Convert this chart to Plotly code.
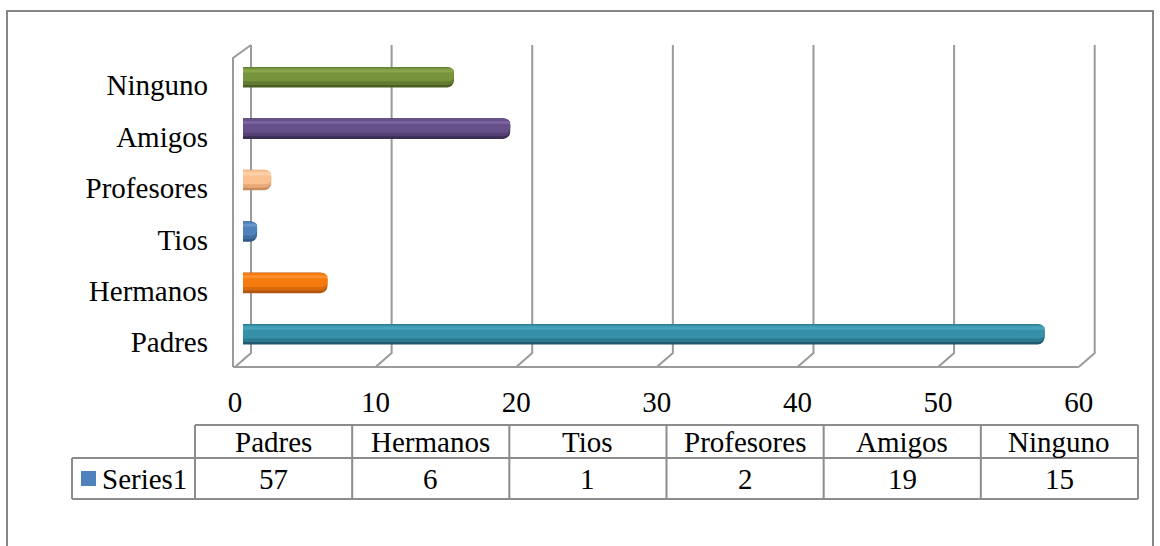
import plotly.graph_objects as go

# ---------------- data ----------------
categories = ["Padres", "Hermanos", "Tios", "Profesores", "Amigos", "Ninguno"]
values = [57, 6, 1, 2, 19, 15]
x_ticks = [0, 10, 20, 30, 40, 50, 60]
series_name = "Series1"

# colours per category (main, dark edge, highlight)
main_colors = ["#3590A8", "#F67B0E", "#4F81BD", "#FAC090", "#67508A", "#77933C"]
edge_colors = ["#1E5A6A", "#B05608", "#2F5887", "#C98C5C", "#3C2E52", "#4A5E24"]
shade_colors = ["#2B7A8F", "#D9680A", "#41709F", "#E8A878", "#544073", "#627B31"]
light_colors = ["#48A3BA", "#FF8E2E", "#6794CB", "#FCD0A8", "#7863A0", "#89A64C"]
legend_color = "#4F81BD"

# ---------------- geometry ----------------
W, H = 1160, 546
X0, X60 = 243, 1086.7
YTOP, YBOT = 51.5, 360
L, R, T, B = 225, 1100, 40, 372
FONT = "Liberation Serif"
FS = 29
GRID = "#9A9A9A"

pxu = (X60 - X0) / (x_ticks[-1] - x_ticks[0])
ncat = len(categories)
cat_px = (YBOT - YTOP) / ncat
x_range = [x_ticks[0] - (X0 - L) / pxu, x_ticks[-1] + (R - X60) / pxu]
y_range = [-0.5 - (B - YBOT) / cat_px, ncat - 0.5 + (YTOP - T) / cat_px]


def px(xp):
    return (xp - L) / (R - L)


def py(yp):
    return (B - yp) / (B - T)


fig = go.Figure()

# cylinder-like bars built from overlaid bands
bands = [
    (edge_colors, 0.40, -0.20, 7),
    (shade_colors, 0.34, -0.15, 6),
    (main_colors, 0.27, -0.08, 5),
    (light_colors, 0.06, 0.09, 3),
]
for cols, w, off, cr in bands:
    fig.add_trace(go.Bar(
        y=categories, x=values, orientation="h", width=w, offset=off,
        marker=dict(color=cols, line=dict(width=0), cornerradius=cr),
        hoverinfo="skip", showlegend=False))

shapes = []
for v in x_ticks:
    shapes.append(dict(
        type="path", xref="x", yref="y", xsizemode="pixel", ysizemode="pixel",
        xanchor=v, yanchor=-0.5, path="M -8,-7 L 8,7 L 8,315",
        line=dict(color=GRID, width=2), layer="below"))

shapes.append(dict(
    type="path", xref="x", yref="y", xsizemode="pixel", ysizemode="pixel",
    xanchor=0, yanchor=-0.5,
    path=f"M -10,-7 L {pxu * (x_ticks[-1] - x_ticks[0]) - 8:.1f},-7",
    line=dict(color=GRID, width=2), layer="below"))
shapes.append(dict(
    type="path", xref="x", yref="y", xsizemode="pixel", ysizemode="pixel",
    xanchor=0, yanchor=-0.5, path="M -10,-7 L -10,302 L 8,315",
    line=dict(color=GRID, width=2), layer="below"))

shapes.append(dict(type="rect", xref="paper", yref="paper",
                   x0=px(7), x1=px(1153), y0=py(560), y1=py(11),
                   line=dict(color="#868686", width=2)))

TBL = "#8C8C8C"
col_left = 195
col_w = (1138 - 195) / ncat
y_top, y_mid, y_bot = 425, 458, 499
shapes.append(dict(type="line", xref="paper", yref="paper", x0=px(col_left), x1=px(1138),
                   y0=py(y_top), y1=py(y_top), line=dict(color=TBL, width=2)))
shapes.append(dict(type="line", xref="paper", yref="paper", x0=px(72), x1=px(1138),
                   y0=py(y_mid), y1=py(y_mid), line=dict(color=TBL, width=2)))
shapes.append(dict(type="line", xref="paper", yref="paper", x0=px(72), x1=px(1138),
                   y0=py(y_bot), y1=py(y_bot), line=dict(color=TBL, width=2)))
shapes.append(dict(type="line", xref="paper", yref="paper", x0=px(72), x1=px(72),
                   y0=py(y_mid), y1=py(y_bot), line=dict(color=TBL, width=2)))
for i in range(ncat + 1):
    xx = col_left + i * col_w
    shapes.append(dict(type="line", xref="paper", yref="paper", x0=px(xx), x1=px(xx),
                       y0=py(y_top), y1=py(y_bot), line=dict(color=TBL, width=2)))
shapes.append(dict(type="rect", xref="paper", yref="paper", x0=px(81), x1=px(96),
                   y0=py(486), y1=py(471), fillcolor=legend_color, line=dict(width=0)))

annotations = []
for i, (c, v) in enumerate(zip(categories, values)):
    cx = col_left + (i + 0.5) * col_w
    annotations.append(dict(x=px(cx), y=py((y_top + y_mid) / 2), xref="paper", yref="paper",
                            text=c, showarrow=False, xanchor="center", yanchor="middle",
                            font=dict(family=FONT, size=FS, color="black")))
    annotations.append(dict(x=px(cx), y=py((y_mid + y_bot) / 2), xref="paper", yref="paper",
                            text=str(v), showarrow=False, xanchor="center", yanchor="middle",
                            font=dict(family=FONT, size=FS, color="black")))
annotations.append(dict(x=px(100), y=py((y_mid + y_bot) / 2), xref="paper", yref="paper",
                        text=series_name, showarrow=False, xanchor="left", yanchor="middle",
                        font=dict(family=FONT, size=FS, color="black")))

fig.update_layout(
    width=W, height=H,
    margin=dict(l=L, r=W - R, t=T, b=H - B, pad=0),
    paper_bgcolor="white", plot_bgcolor="rgba(0,0,0,0)",
    barmode="overlay", showlegend=False,
    shapes=shapes, annotations=annotations,
    font=dict(family=FONT, size=FS, color="black"),
    xaxis=dict(range=x_range, tickvals=x_ticks, ticktext=[str(t) for t in x_ticks],
               showgrid=False, zeroline=False, showline=False, ticks="",
               ticklabelstandoff=10, ticklabelshift=-8,
               tickfont=dict(family=FONT, size=FS, color="black"), fixedrange=True),
    yaxis=dict(type="category", categoryorder="array", categoryarray=categories,
               range=y_range,
               showgrid=False, zeroline=False, showline=False, ticks="",
               ticklabelstandoff=16, ticklabelshift=8,
               tickfont=dict(family=FONT, size=FS, color="black"), fixedrange=True),
)

fig.write_html("out.html", config={"displayModeBar": False},
               post_script="document.body.style.margin='0';document.body.style.overflow='hidden';")
